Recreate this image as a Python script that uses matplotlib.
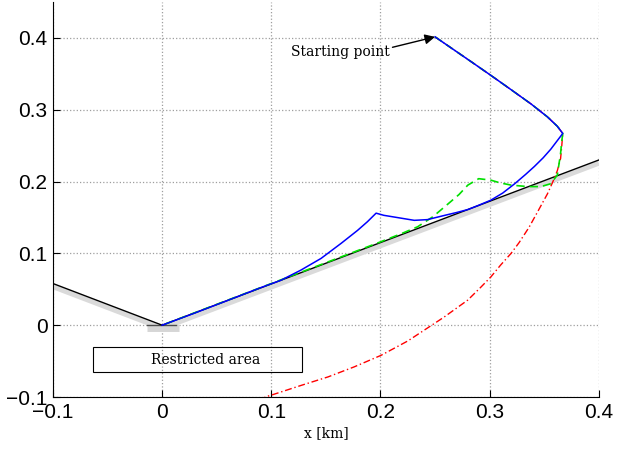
import matplotlib
matplotlib.use("Agg")
import matplotlib.pyplot as plt
from matplotlib.patches import Rectangle

# boundary (black) and its shadow
bound_x = [-0.1, 0.0, 0.4]
bound_y = [0.058, 0.0, 0.23]

# common first leg from the starting point to the turn
leg_x = [0.250, 0.2677, 0.283, 0.301, 0.3196, 0.338, 0.353, 0.362, 0.367]
leg_y = [0.4015, 0.383, 0.367, 0.348, 0.328, 0.308, 0.290, 0.277, 0.267]

# blue trajectory (after the turn)
blue_x = leg_x + [0.361, 0.356, 0.349, 0.341, 0.333, 0.323, 0.312, 0.301, 0.290,
                  0.280, 0.270, 0.259, 0.243, 0.231, 0.219, 0.203, 0.196, 0.188,
                  0.179, 0.164, 0.1456, 0.127, 0.109, 0.0907, 0.060, 0.030, 0.0]
blue_y = leg_y + [0.255, 0.245, 0.233, 0.221, 0.210, 0.197, 0.184, 0.174, 0.167,
                  0.161, 0.157, 0.153, 0.147, 0.146, 0.149, 0.153, 0.156, 0.144,
                  0.132, 0.114, 0.093, 0.0766, 0.0627, 0.0525, 0.0345, 0.017, 0.0]

# green dashed trajectory (after the turn)
green_x = leg_x + [0.366, 0.365, 0.362, 0.356, 0.347, 0.335, 0.320, 0.310, 0.301,
                   0.290, 0.280, 0.272, 0.262, 0.248, 0.234, 0.220, 0.200, 0.150,
                   0.100, 0.050, 0.0]
green_y = leg_y + [0.255, 0.239, 0.209, 0.197, 0.193, 0.193, 0.195, 0.198, 0.202,
                   0.204, 0.195, 0.182, 0.169, 0.151, 0.137, 0.128, 0.116, 0.087,
                   0.058, 0.029, 0.0]

# red dash-dot trajectory (after the turn)
red_x = leg_x + [0.366, 0.365, 0.362, 0.358, 0.353, 0.344, 0.336, 0.327, 0.3196,
                 0.310, 0.301, 0.292, 0.280, 0.269, 0.258, 0.246, 0.225, 0.2005,
                 0.176, 0.152, 0.127, 0.0998, 0.094]
red_y = leg_y + [0.248, 0.232, 0.215, 0.200, 0.183, 0.158, 0.136, 0.115, 0.0999,
                 0.0836, 0.067, 0.053, 0.035, 0.023, 0.011, -0.001, -0.022, -0.042,
                 -0.058, -0.072, -0.084, -0.0975, -0.100]

xticks = [-0.1, 0.0, 0.1, 0.2, 0.3, 0.4]
xtick_labels = ["\u22120.1", "0", "0.1", "0.2", "0.3", "0.4"]
yticks = [-0.1, 0.0, 0.1, 0.2, 0.3, 0.4]
ytick_labels = ["\u22120.1", "0", "0.1", "0.2", "0.3", "0.4"]

fig = plt.figure(figsize=(6.27, 4.49), dpi=100)
ax = fig.add_axes([0.0845, 0.1158, 0.8705, 0.8797])

# shadow under the boundary + grey pad at origin
ax.plot(bound_x, [v - 0.0045 for v in bound_y], color="#dadada", lw=3.5,
        solid_capstyle="butt", zorder=1)
ax.plot([-0.014, 0.015], [-0.0045, -0.0045], color="#d6d6d6", lw=5,
        solid_capstyle="butt", zorder=1)
ax.plot([-0.014, 0.013], [0.0, 0.0], color="0.3", lw=1, zorder=2)
ax.plot(bound_x, bound_y, color="black", lw=1, zorder=2)

ax.plot(red_x, red_y, color="#ff0000", lw=1, ls=(0, (5, 2, 1, 2)), zorder=3)
ax.plot(green_x, green_y, color="#00e000", lw=1.2, ls=(0, (5, 3)), zorder=4)
ax.plot(blue_x, blue_y, color="#0000ff", lw=1.1, zorder=5)

ax.annotate("Starting point", xy=(0.250, 0.4015), xytext=(0.118, 0.380),
            fontsize=10, family="DejaVu Serif", va="center", ha="left",
            arrowprops=dict(arrowstyle="-|>", color="black", lw=1,
                            mutation_scale=15, shrinkA=0, shrinkB=0,
                            relpos=(0.88, 0.6)))

ax.add_patch(Rectangle((-0.063, -0.065), 0.191, 0.034, fill=False,
                       edgecolor="black", lw=0.8, zorder=6))
ax.text(0.040, -0.048, "Restricted area", fontsize=10, family="DejaVu Serif",
        ha="center", va="center", zorder=7)

ax.set_xlim(-0.1, 0.4)
ax.set_ylim(-0.1, 0.45)
ax.set_xticks(xticks)
ax.set_xticklabels(xtick_labels, family="Liberation Sans", fontsize=15)
ax.set_yticks(yticks)
ax.set_yticklabels(ytick_labels, family="Liberation Sans", fontsize=15)
ax.tick_params(direction="in", length=5, width=0.8, pad=4)
ax.spines["top"].set_visible(False)
ax.spines["right"].set_visible(False)
ax.grid(True, ls=":", color="0.62", lw=0.9)
ax.set_axisbelow(True)
ax.set_xlabel("x [km]", family="DejaVu Serif", fontsize=10, labelpad=3)

fig.savefig("out.png", dpi=100)
